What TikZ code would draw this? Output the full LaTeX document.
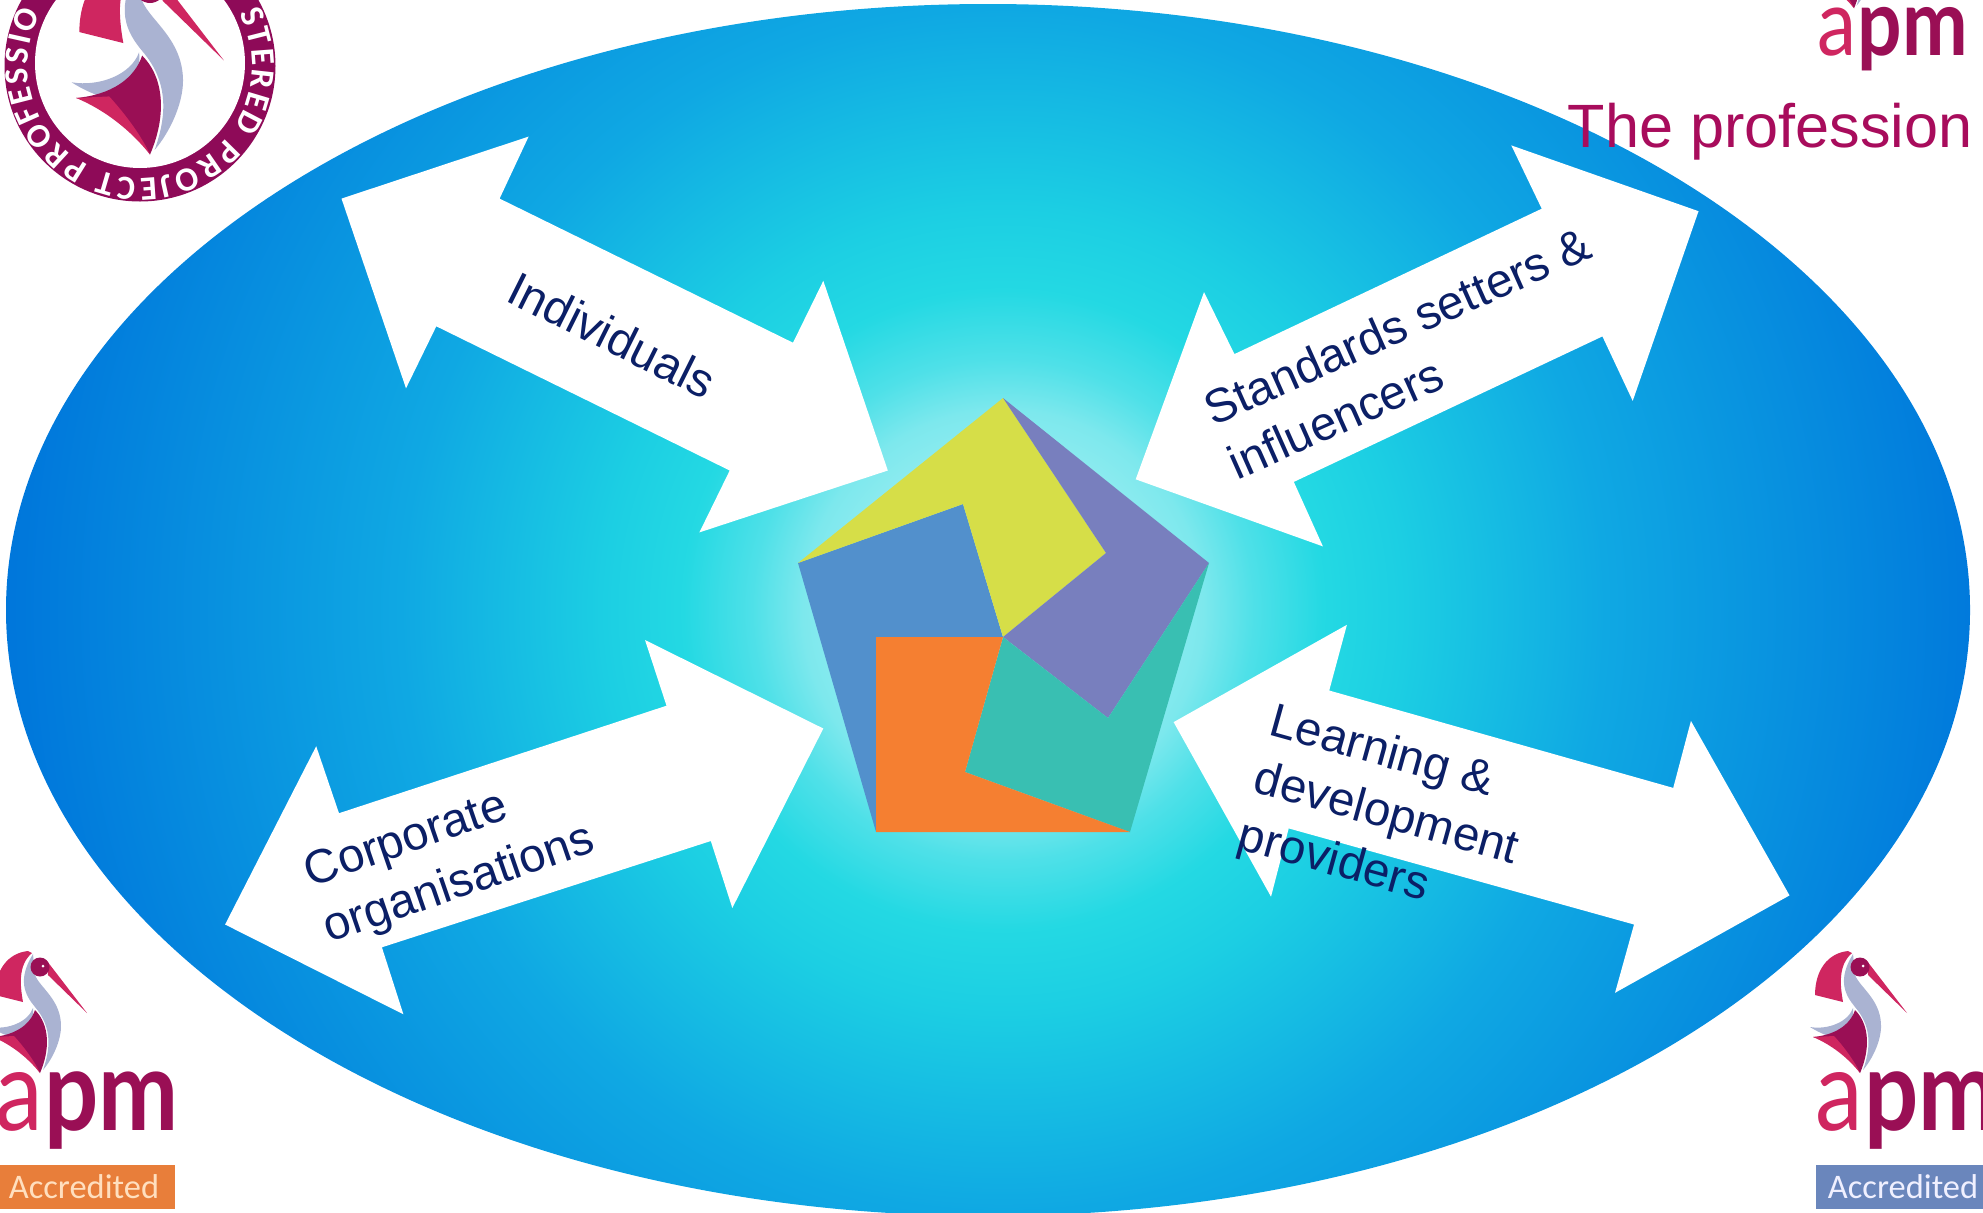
\documentclass[tikz,border=0pt]{standalone}
\usepackage{fontspec}
\setmainfont{Liberation Sans}
\newfontfamily\logofont{Lato}
\newfontfamily\barfont{Carlito}
\usetikzlibrary{decorations.text}
\definecolor{apmdark}{HTML}{9A0F55}
\definecolor{apmred}{HTML}{CF2660}
\definecolor{apmgrey}{HTML}{AAB3D2}
\definecolor{ringpurple}{HTML}{8E0A58}
\definecolor{labelnavy}{HTML}{0B1F66}
\definecolor{titlepink}{HTML}{A80C5C}
\definecolor{penyellow}{HTML}{D6DE48}
\definecolor{penblue}{HTML}{5290CC}
\definecolor{penorange}{HTML}{F57F31}
\definecolor{penteal}{HTML}{39BFB2}
\definecolor{penpurple}{HTML}{787FBE}
\definecolor{barorange}{HTML}{E87E3A}
\definecolor{barblue}{HTML}{6A86BC}
\pgfdeclareradialshading{glowdisc}{\pgfpointorigin}{%
  rgb(0cm)=(0.80,0.97,0.97);
  rgb(2cm)=(0.49,0.91,0.93);
  rgb(2.5cm)=(0.31,0.88,0.91);
  rgb(3.2cm)=(0.14,0.85,0.89);
  rgb(4cm)=(0.11,0.81,0.89);
  rgb(6cm)=(0.06,0.66,0.89);
  rgb(9.82cm)=(0.0,0.47,0.86);
  rgb(10.5cm)=(0.0,0.45,0.85)}
\tikzset{
  whitearrow/.style={fill=white},
  sidelabel/.style={text=labelnavy,font=\fontsize{13.5}{16.8}\selectfont,align=left},
  barlabel/.style={font=\barfont\fontsize{9.8}{11}\selectfont},
  birdmark/.pic={
    \fill[apmred] (38,1) .. controls (18,3) and (5,20) .. (5,45) -- (33,52) .. controls (30,35) and (28,15) .. (42,3) -- cycle;
    \fill[apmgrey] (43,4) -- (45,25) .. controls (50,38) and (72,50) .. (71,78) .. controls (70,95) and (60,112) .. (53,120) .. controls (60,100) and (63,78) .. (45,57) .. controls (35,45) and (27,30) .. (43,4) -- cycle;
    \fill[apmgrey] (0,77) .. controls (18,80) and (38,72) .. (43,58) .. controls (45,70) and (35,85) .. (22,87) .. controls (15,85) and (8,82) .. (0,77) -- cycle;
    \fill[apmdark] (45,60) .. controls (60,75) and (60,100) .. (50,123) .. controls (40,108) and (25,92) .. (3,87) .. controls (25,85) and (40,75) .. (45,60) -- cycle;
    \fill[apmred] (3,87) -- (24,86) .. controls (35,98) and (45,112) .. (50,123) .. controls (38,108) and (22,95) .. (3,87) -- cycle;
    \fill[apmred] (57,11) -- (97,63) -- (58,25) -- cycle;
    \fill[apmdark] (50,17) circle [radius=9.5];
    \fill[white] (53,16) circle [radius=1.5];
  },
  apmword/.pic={
    \node[transform shape,xscale=.85,inner sep=0pt,anchor=base west,text=apmred,font=\logofont\fontsize{32}{32}\selectfont] (a) at (5,180) {a};
    \node[transform shape,xscale=.85,inner sep=0pt,anchor=base west,text=apmdark,font=\logofont\bfseries\fontsize{32}{32}\selectfont] (pm) at (a.base east) {pm};
  }
}
\begin{document}
\begin{tikzpicture}[x=0.01cm,y=-0.01cm]
    \useasboundingbox (0,0) rectangle (1983,1212);
    \clip (0,0) rectangle (1983,1212);
    \begin{scope}
    \clip (988,610) ellipse [x radius=982,y radius=606];
    \node[inner sep=0pt] (glow) at (1003,610) {\pgfuseshading{glowdisc}};
    \end{scope}

    \fill[whitearrow] (341.5,198.6)--(528.6,136.6)--(499.6,198.6)--(793,342.7)--(823.3,280.8)--(887.8,470.5)--(699.4,532.4)--(729.7,470.5)--(436.3,326.3)--(406,388.3)--cycle;
    \fill[whitearrow] (1698.5,211.2)--(1511.3,145.4)--(1541.7,208.7)--(1234.4,354.1)--(1204,292.1)--(1135.7,479.3)--(1322.9,546.4)--(1293.8,481.9)--(1602.4,336.4)--(1632.7,400.9)--cycle;
    \fill[whitearrow] (823.3,728.5)--(645,640)--(666.5,705.7)--(339,813.2)--(316.2,746.2)--(225.1,924.5)--(403.4,1014.3)--(381.9,947.3)--(710.8,841)--(732.3,908)--cycle;
    \fill[whitearrow] (1173.6,722.1)--(1346.9,624.8)--(1329.2,690.5)--(1673.2,787.9)--(1690.9,720.9)--(1789.5,895.4)--(1615,992.8)--(1634,924.5)--(1288.7,828.4)--(1271,896.7)--cycle;

    \node[sidelabel,rotate=-26.5] (individuals) at (612,335) {Individuals};
    \node[sidelabel,rotate=24] (standards) at (1409,353) {Standards setters \&\\influencers};
    \node[sidelabel,rotate=19] (corporate) at (450,858) {Corporate\\organisations};
    \node[sidelabel,rotate=-15.5] (learning) at (1386,816) {Learning \&\\development\\providers};

    \fill[penblue] (798,563)--(963,504)--(1003,637)--(876,637)--(876,832)--cycle;
    \fill[penyellow] (1003,398)--(1106,553)--(1003,637)--(963,504)--(798,563)--cycle;
    \fill[penpurple] (1003,398)--(1209,563)--(1108,718)--(1003,637)--(1106,553)--cycle;
    \fill[penteal] (1209,563)--(1130,832)--(965,772)--(1003,637)--(1108,718)--cycle;
    \fill[penorange] (876,637)--(1003,637)--(965,772)--(1130,832)--(876,832)--cycle;

    \coordinate (badge) at (140,66);
    \coordinate (badgeinner) at (140,63);
    \fill[ringpurple] (badge) circle [radius=135.5];
    \fill[white] (badgeinner) circle [radius=105];
    \pic[scale=1.57] at (71.5,-38.6) {birdmark};
    \path[decorate,decoration={text along path,text align=fit to path,
      text={|\color{white}\barfont\bfseries\fontsize{9.6}{10}\selectfont|STERED PROJECT PROFESSIO}}]
      ([shift={(28:1.12cm)}]badge) arc [start angle=28,end angle=-208,radius=1.12cm];

    \pic[scale=.82] (logotop-) at (1813,-92.6) {birdmark};
    \pic[scale=.82] (logotop-) at (1813,-92.6) {apmword};
    \node[anchor=base west,inner sep=0pt,text=titlepink,font=\fontsize{17.4}{20}\selectfont] (profession) at (1567,147) {The profession};

    \pic (logoleft-) at (-10,950) {birdmark};
    \pic (logoleft-) at (-10,950) {apmword};
    \fill[barorange] (0,1165) rectangle (175,1209);
    \node[barlabel,text=orange!25!white,anchor=base] (accreditedleft) at (84,1198) {Accredited};

    \pic (logoright-) at (1810,950) {birdmark};
    \pic (logoright-) at (1810,950) {apmword};
    \fill[barblue] (1816,1165) rectangle (1983,1209);
    \node[barlabel,text=blue!6!white,anchor=base] (accreditedright) at (1903,1198) {Accredited};
\end{tikzpicture}
\end{document}
